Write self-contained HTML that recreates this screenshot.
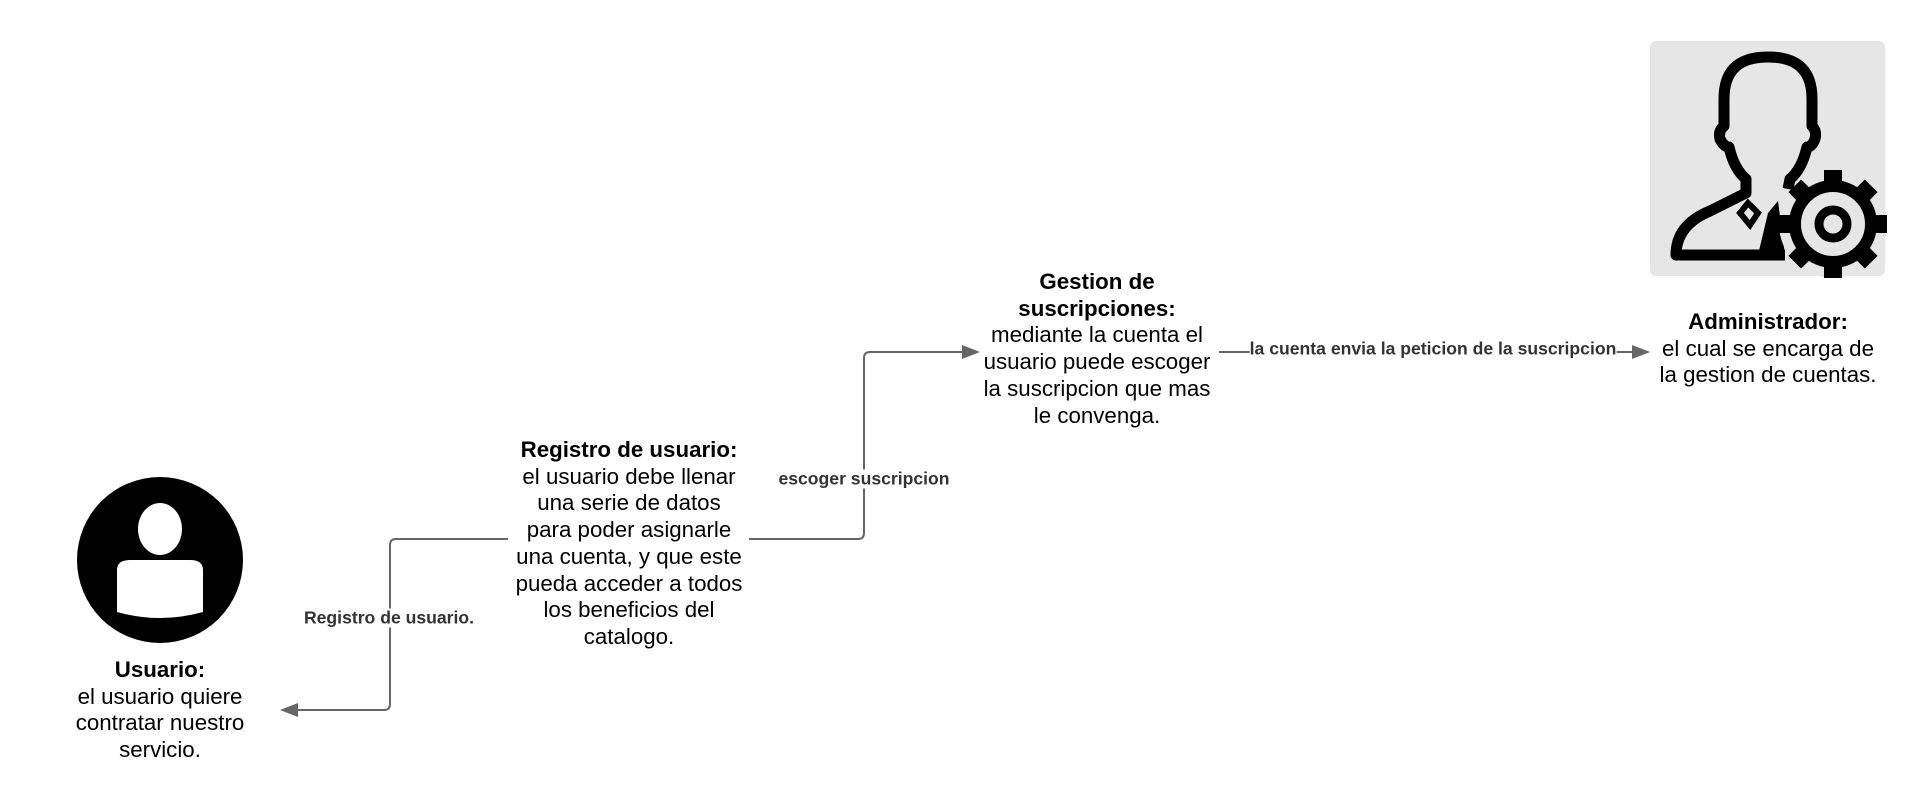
<!DOCTYPE html>
<html><head><meta charset="utf-8"><style>
body{margin:0;width:1929px;height:808px;background:#fff;position:relative;overflow:hidden;font-family:"Liberation Sans",sans-serif;}
.t{position:absolute;text-align:center;font-size:22.3px;line-height:26.7px;color:#000;transform:translateX(-50%);white-space:nowrap;}
.t b{font-weight:bold;}
.l{position:absolute;font-size:17.6px;font-weight:bold;color:#333;background:#fff;transform:translate(-50%,-50%);white-space:nowrap;line-height:19px;}
</style></head><body>
<svg width="1929" height="808" style="position:absolute;left:0;top:0">
<circle cx="160" cy="560" r="83" fill="#000"/>
<ellipse cx="160" cy="529" rx="22" ry="26" fill="#fff"/>
<path d="M117 612 L117 570 Q117 560 130 560 L190 560 Q203 560 203 570 L203 612 Q160 624 117 612 Z" fill="#fff"/>
<g fill="none" stroke="#666" stroke-width="2">
<path d="M508 539 H396 Q390 539 390 545 V704 Q390 710 384 710 H292"/>
<path d="M749 539 H858 Q864 539 864 533 V358 Q864 352 870 352 H968"/>
<path d="M1219 352 H1638"/>
</g>
<g fill="#666">
<path d="M280 710 L298 703 L298 717 Z"/>
<path d="M980 352 L962 345 L962 359 Z"/>
<path d="M1650 352 L1632 345 L1632 359 Z"/>
</g>
<rect x="1650" y="41" width="235" height="235" rx="6" fill="#e6e6e6"/>
<g transform="translate(1650,41)">
<path d="M118 16 C86 16 74 32 74 58 L74 85 Q68 90 70 98 Q74 106 79 106 Q84 128 96 138 L96 152 L60 170 Q26 184 26 214 L135 214" fill="none" stroke="#000" stroke-width="11" stroke-linejoin="round"/>
<path d="M118 16 C150 16 162 32 162 58 L162 85 Q167 90 165 98 Q162 106 157 106 Q152 128 140 138 L138 148" fill="none" stroke="#000" stroke-width="11" stroke-linejoin="round"/>
<path d="M98 162 L108 172 L100 184 L90 172 Z" fill="none" stroke="#000" stroke-width="6"/>
<path d="M108 214 L118 172 L128 160 L135 214 Z" fill="#000"/>
<g transform="translate(183,183)">
<circle r="54" fill="#e6e6e6"/>
<circle r="38" fill="none" stroke="#000" stroke-width="12"/>
<circle r="14" fill="none" stroke="#000" stroke-width="9"/>
<g fill="#000">
<rect x="-9" y="-54" width="18" height="20"/><rect x="-9" y="34" width="18" height="20"/>
<rect x="-54" y="-9" width="20" height="18"/><rect x="34" y="-9" width="20" height="18"/>
<g transform="rotate(45)"><rect x="-9" y="-54" width="18" height="20"/><rect x="-9" y="34" width="18" height="20"/>
<rect x="-54" y="-9" width="20" height="18"/><rect x="34" y="-9" width="20" height="18"/></g>
</g>
</g>
</g>
</svg>
<div class="t" style="left:160px;top:657px"><b>Usuario:</b><br>el usuario quiere<br>contratar nuestro<br>servicio.</div>
<div class="t" style="left:629px;top:437px"><b>Registro de usuario:</b><br>el usuario debe llenar<br>una serie de datos<br>para poder asignarle<br>una cuenta, y que este<br>pueda acceder a todos<br>los beneficios del<br>catalogo.</div>
<div class="t" style="left:1097px;top:269px"><b>Gestion de<br>suscripciones:</b><br>mediante la cuenta el<br>usuario puede escoger<br>la suscripcion que mas<br>le convenga.</div>
<div class="t" style="left:1768px;top:309px"><b>Administrador:</b><br>el cual se encarga de<br>la gestion de cuentas.</div>
<div class="l" style="left:389px;top:618px">Registro de usuario.</div>
<div class="l" style="left:864px;top:479px">escoger suscripcion</div>
<div class="l" style="left:1433px;top:349px">la cuenta envia la peticion de la suscripcion</div>
</body></html>
